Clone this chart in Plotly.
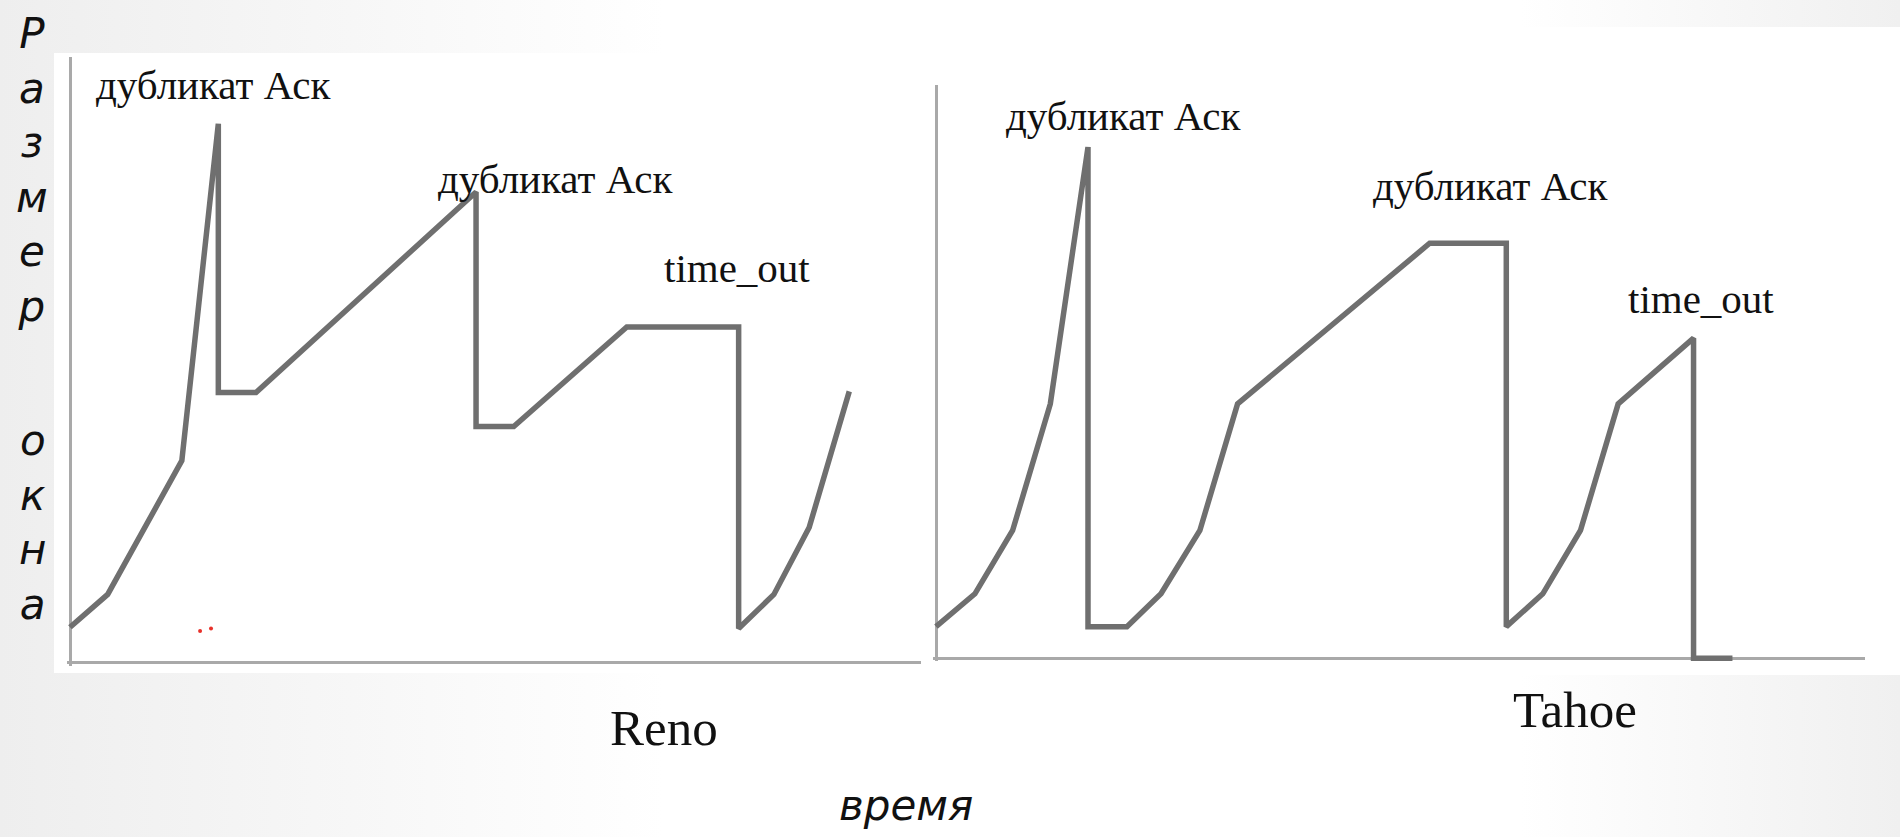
import base64
import plotly.graph_objects as go

W, H = 1900, 837

# ---------------- data ----------------
reno_t = [0, 3.1, 9.2, 12.2, 12.2, 15.3, 33.4, 33.4, 36.5, 45.8, 55.0, 55.0, 57.9, 60.8, 64.1]
reno_cwnd = [2.9, 5.6, 16.6, 44.3, 22.2, 22.2, 38.7, 19.4, 19.4, 27.6, 27.6, 2.8, 5.6, 11.1, 22.3]

tahoe_t = [0, 3.2, 6.3, 9.4, 12.5, 12.5, 15.7, 18.5, 21.7, 24.8, 40.6, 46.9, 46.9, 49.9, 53.0, 56.1, 62.3, 62.3, 65.5]
tahoe_cwnd = [2.6, 5.3, 10.5, 20.9, 42.0, 2.6, 2.6, 5.3, 10.5, 20.9, 34.1, 34.1, 2.6, 5.3, 10.5, 20.9, 26.3, 0, 0]

red_t = [10.7, 11.6]
red_cwnd = [2.6, 2.8]

reno_labels = ["дубликат Аск", "дубликат Аск", "time_out"]
tahoe_labels = ["дубликат Аск", "дубликат Аск", "time_out"]
panel_titles = ["Reno", "Tahoe"]
y_title_words = ["Размер", "окна"]
x_title = "время"

# ---------------- layout helpers ----------------
def xdom(px0, px1, v0, v1, lo, hi):
    k = (px1 - px0) / (v1 - v0)
    return [(px0 + (lo - v0) * k) / W, (px0 + (hi - v0) * k) / W]

def ydom(py0, py1, v0, v1, lo, hi):
    k = (py0 - py1) / (v1 - v0)
    a = py0 - (lo - v0) * k
    b = py0 - (hi - v0) * k
    return [1 - a / H, 1 - b / H]

LINE = "#6f6f6f"
AXC = "#a9a9a9"

fig = go.Figure()
fig.add_trace(go.Scatter(x=reno_t, y=reno_cwnd, mode="lines",
                         line=dict(color=LINE, width=5.5), xaxis="x", yaxis="y",
                         showlegend=False, hoverinfo="skip"))
fig.add_trace(go.Scatter(x=red_t, y=red_cwnd, mode="markers",
                         marker=dict(color="#e8312a", size=4), xaxis="x", yaxis="y",
                         showlegend=False, hoverinfo="skip"))
fig.add_trace(go.Scatter(x=tahoe_t, y=tahoe_cwnd, mode="lines",
                         line=dict(color=LINE, width=5.5), xaxis="x2", yaxis="y2",
                         showlegend=False, hoverinfo="skip"))

ext = 0.25
r_x = [-ext, 70]
r_y = [-ext, 49.8]
t_x = [-ext, 76.4]
t_y = [-ext, 47.1]

common = dict(showgrid=False, showticklabels=False, ticks="", showline=False,
              zeroline=True, zerolinecolor=AXC, zerolinewidth=2.5, fixedrange=True)

# soft slide background (gray edges, white centre)
svg = (
    '<svg xmlns="http://www.w3.org/2000/svg" width="1900" height="837">'
    '<defs><linearGradient id="g" x1="0" y1="0" x2="1" y2="0">'
    '<stop offset="0" stop-color="#eeeeee"/><stop offset="0.35" stop-color="#ffffff"/>'
    '<stop offset="0.8" stop-color="#ffffff"/><stop offset="1" stop-color="#f0f0f0"/>'
    '</linearGradient></defs><rect width="1900" height="837" fill="url(#g)"/></svg>'
)
bg_uri = "data:image/svg+xml;base64," + base64.b64encode(svg.encode()).decode()

fig.update_layout(
    width=W, height=H,
    margin=dict(l=0, r=0, t=0, b=0),
    paper_bgcolor="#f6f6f6",
    plot_bgcolor="rgba(0,0,0,0)",
    xaxis=dict(domain=xdom(70, 921, 0, 70, *r_x), range=r_x, anchor="y", **common),
    yaxis=dict(domain=ydom(662.5, 57, 0, 49.8, *r_y), range=r_y, anchor="x", **common),
    xaxis2=dict(domain=xdom(936, 1865, 0, 76.4, *t_x), range=t_x, anchor="y2", **common),
    yaxis2=dict(domain=ydom(658.3, 85, 0, 47.1, *t_y), range=t_y, anchor="x2", **common),
    images=[dict(source=bg_uri, xref="paper", yref="paper", x=0, y=1, sizex=1, sizey=1,
                 sizing="stretch", xanchor="left", yanchor="top", layer="below")],
)

# white picture areas
fig.add_shape(type="rect", xref="paper", yref="paper", x0=54 / W, x1=930 / W,
              y0=1 - 673 / H, y1=1 - 53 / H, fillcolor="white", line=dict(width=0), layer="below")
fig.add_shape(type="rect", xref="paper", yref="paper", x0=930 / W, x1=1.0,
              y0=1 - 675 / H, y1=1 - 27 / H, fillcolor="white", line=dict(width=0), layer="below")

SERIF = "Liberation Serif"
HAND = "DejaVu Sans"

def ann(text, cx, cy, size, family=SERIF, italic=False):
    fig.add_annotation(text=text, x=cx / W, y=1 - cy / H, xref="paper", yref="paper",
                       xanchor="center", yanchor="middle", showarrow=False, align="center",
                       font=dict(family=family, size=size, color="#111111",
                                 style="italic" if italic else "normal"))

# curve labels
reno_pos = [(213, 85), (555, 179), (737, 268)]
tahoe_pos = [(1123, 116), (1490, 186), (1701, 299)]
for txt, (cx, cy) in zip(reno_labels, reno_pos):
    ann(txt, cx, cy, 41)
for txt, (cx, cy) in zip(tahoe_labels, tahoe_pos):
    ann(txt, cx, cy, 41)

# panel titles
ann(panel_titles[0], 664, 728, 51)
ann(panel_titles[1], 1575, 710, 51)

# axis titles (letters stacked vertically)
word_centers = [170, 522]
for word, cy in zip(y_title_words, word_centers):
    ann("<br>".join(word), 32, cy, 42, family=HAND, italic=True)
ann(x_title, 906, 805, 42, family=HAND, italic=True)

fig.write_html("out.html", config={"displayModeBar": False},
               post_script="document.body.style.margin='0';")
